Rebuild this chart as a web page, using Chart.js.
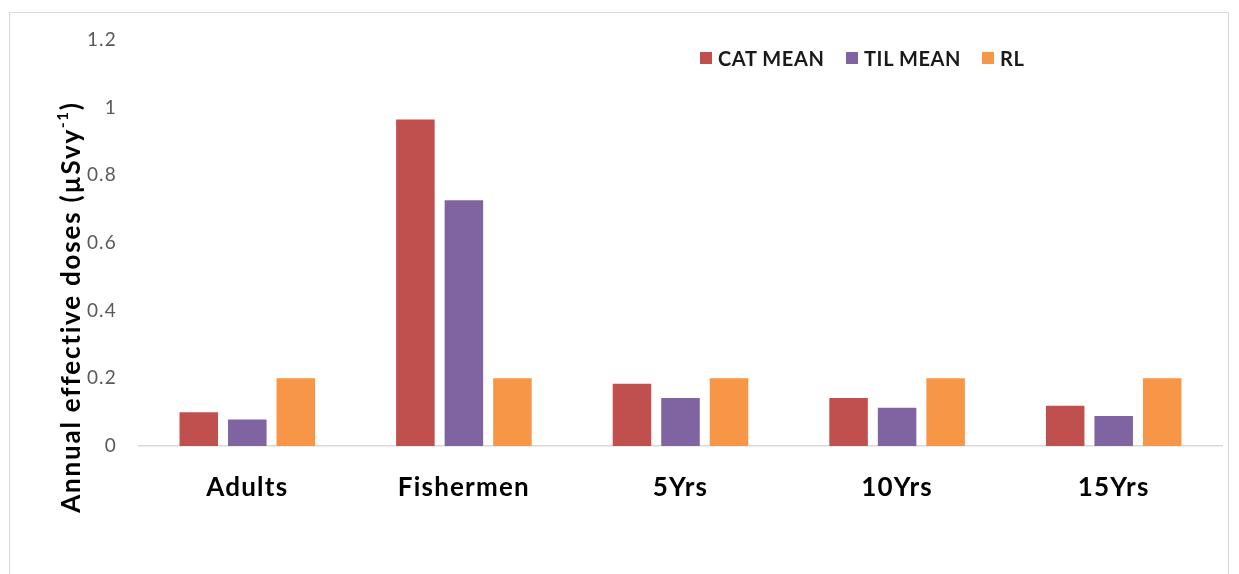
<!DOCTYPE html>
<html>
<head>
<meta charset="utf-8">
<script src="https://cdn.jsdelivr.net/npm/chart.js@4.4.1/dist/chart.umd.min.js"></script>
<style>
  html, body { margin: 0; padding: 0; background: #fff; }
  #wrap { position: relative; width: 1239px; height: 574px; }
  #frame { position: absolute; left: 9px; top: 12px; width: 1220px; height: 570px; border: 1px solid #d9d9d9; box-sizing: border-box; }
  #legend { position: absolute; left: 700px; top: 46px; display: flex; font-family: Lato, sans-serif; font-weight: bold; font-size: 20px; letter-spacing: 0.6px; color: #1a1a1a; }
  .item { display: flex; align-items: center; }
  .box { width: 12px; height: 12px; margin-right: 6px; }
</style>
</head>
<body>
<div id="wrap">
  <div id="frame"></div>
  <canvas id="doseChart" width="1239" height="574"></canvas>
  <div id="legend"></div>
</div>
<script>
// البيانات
const categories = ["Adults", "Fishermen", "5Yrs", "10Yrs", "15Yrs"];
const seriesNames = ["CAT MEAN", "TIL MEAN", "RL"];
const catMean = [0.10, 0.965, 0.184, 0.142, 0.119];
const tilMean = [0.078, 0.726, 0.142, 0.113, 0.089];
const rlValues = [0.2, 0.2, 0.2, 0.2, 0.2];
const yTickLabels = ["0", "0.2", "0.4", "0.6", "0.8", "1", "1.2"];
const colors = ["#C0504D", "#8064A2", "#F79646"];
const legendWidths = [146, 136, 60];

// تباعد الحروف للنصوص
const spacingPlugin = {
  id: "spacing",
  beforeDraw(chart) {
    chart.ctx.letterSpacing = "1.2px";
  },
};

// عنوان المحور Y مع الأس
const yTitlePlugin = {
  id: "yTitle",
  afterDraw(chart) {
    const ctx = chart.ctx;
    ctx.save();
    ctx.letterSpacing = "1.8px";
    ctx.translate(72, 307);
    ctx.rotate(-Math.PI / 2);
    ctx.fillStyle = "#000";
    ctx.textBaseline = "middle";
    const main = "Annual effective doses (µSvy";
    const sup = "-1";
    const end = ")";
    ctx.font = "bold 26px Lato";
    const w1 = ctx.measureText(main).width;
    const w3 = ctx.measureText(end).width;
    ctx.font = "bold 15px Lato";
    const w2 = ctx.measureText(sup).width;
    let x = -(w1 + w2 + w3) / 2;
    ctx.font = "bold 26px Lato";
    ctx.fillText(main, x, 0);
    x += w1;
    ctx.font = "bold 15px Lato";
    ctx.fillText(sup, x, -9);
    x += w2;
    ctx.font = "bold 26px Lato";
    ctx.fillText(end, x, 0);
    ctx.restore();
  },
};

const datasets = [catMean, tilMean, rlValues].map((vals, i) => ({
  label: seriesNames[i],
  data: vals,
  backgroundColor: colors[i],
  categoryPercentage: 0.672,
  barPercentage: 0.794,
}));

const chart = new Chart(document.getElementById("doseChart"), {
  type: "bar",
  data: { labels: categories, datasets: datasets },
  options: {
    responsive: false,
    animation: false,
    layout: { padding: { left: 0, right: 17, top: 40, bottom: 0 } },
    plugins: { legend: { display: false }, tooltip: { enabled: false } },
    scales: {
      x: {
        grid: { display: false, drawTicks: false },
        border: { display: true, color: "#d9d9d9", width: 1.5 },
        ticks: { color: "#000", font: { family: "Lato", size: 26, weight: "bold" }, padding: 26 },
        afterFit(scale) { scale.height = 128; },
      },
      y: {
        min: 0,
        max: 1.2,
        grid: { display: false, drawTicks: false },
        border: { display: false },
        ticks: {
          stepSize: 0.2,
          color: "#595959",
          font: { family: "Lato", size: 19 },
          padding: 22,
          callback: (v, idx) => yTickLabels[idx],
        },
        afterFit(scale) { scale.width = 139; },
      },
    },
  },
  plugins: [spacingPlugin, yTitlePlugin],
});

// وسيلة الإيضاح
const legend = document.getElementById("legend");
seriesNames.forEach((name, i) => {
  legend.innerHTML += `<div class="item" style="width:${legendWidths[i]}px"><span class="box" style="background:${colors[i]}"></span>${name}</div>`;
});
</script>
</body>
</html>
